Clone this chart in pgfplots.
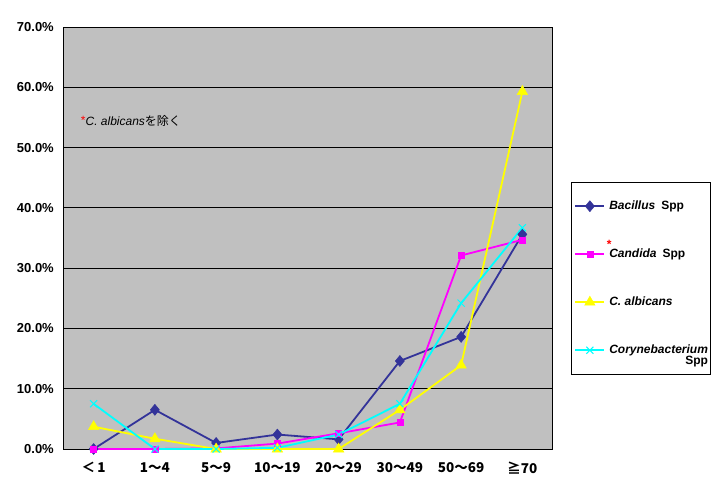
\documentclass[border=0pt]{standalone}
\usepackage{fontspec}
\setmainfont{Liberation Sans}
\newfontfamily\cjk{Noto Sans CJK JP}
\usepackage{pgfplots}
\pgfplotsset{compat=1.18}
\definecolor{bgray}{RGB}{192,192,192}
\definecolor{navy}{RGB}{51,51,153}
\definecolor{mag}{RGB}{255,0,255}
\definecolor{yel}{RGB}{255,255,0}
\definecolor{cya}{RGB}{0,255,255}
\begin{document}
\begin{tikzpicture}
\useasboundingbox (0,0) rectangle (728pt,493pt);
\begin{axis}[
  at={(63pt,44pt)}, anchor=south west,
  scale only axis, width=490pt, height=422pt,
  xmin=-0.5, xmax=7.5, ymin=0, ymax=70,
  clip=false,
  axis background/.style={fill=bgray},
  axis line style={black, line width=1pt},
  xtick={0,...,7},
  xticklabels={{\cjk ＜\,1},{\cjk 1～4},{\cjk 5～9},{\cjk 10～19},{\cjk 20～29},{\cjk 30～49},{\cjk 50～69},{\cjk ≧70}},
  extra x ticks={0.5,1.5,...,6.5},
  extra x tick labels={},
  extra x tick style={major tick length=4pt, tick align=outside, tick style={black, line width=1pt}, xmajorgrids=false},
  x tick style={draw=none},
  xticklabel style={font=\bfseries\fontsize{13.5}{15}\selectfont, inner sep=0pt, yshift=-13pt},
  ytick={0,10,...,70},
  y tick style={draw=none},
  yticklabel={\pgfmathprintnumber[fixed,fixed zerofill,precision=1]{\tick}\%},
  yticklabel style={font=\bfseries\fontsize{13}{15}\selectfont, inner sep=0pt, xshift=-9pt},
  /pgf/number format/assume math mode=true,
  ymajorgrids,
  grid style={black, line width=1pt},
  legend image code/.code={\draw[mark repeat=2,mark phase=2,#1] plot coordinates {(0pt,0pt) (14.5pt,0pt) (29pt,0pt)};},
  legend cell align=left,
  legend style={at={(1.0367,0.6334)}, anchor=north west, draw=black, line width=1pt, fill=white,
    inner xsep=3pt, inner ysep=18pt, row sep=36pt, column sep=4pt,
    nodes={inner sep=0pt, text height=9pt, text depth=3pt, anchor=west},
    font=\bfseries\fontsize{12}{14}\selectfont},
]
\addplot[color=navy, line width=1.8pt, mark=diamond*, mark size=5.5pt, mark options={fill=navy, draw=navy, line width=0.5pt, xscale=1.1}]
  coordinates {(0,0) (1,6.5) (2,1.0) (3,2.4) (4,1.6) (5,14.6) (6,18.6) (7,35.6)};
\addlegendentry{\textit{Bacillus}\hspace{6pt}Spp}
\addplot[color=mag, line width=1.8pt, mark=square*, mark size=3pt, mark options={fill=mag, draw=mag, line width=0.5pt}]
  coordinates {(0,0) (1,0) (2,0.1) (3,0.9) (4,2.6) (5,4.4) (6,32.1) (7,34.7)};
\addlegendentry{\makebox[0pt][c]{\raisebox{8.5pt}[0pt][0pt]{\textcolor{red}{*}}}\textit{Candida}\hspace{6pt}Spp}
\addplot[color=yel, line width=1.8pt, mark=triangle*, mark size=6pt, mark options={fill=yel, draw=yel, line width=0.5pt}]
  coordinates {(0,3.7) (1,1.7) (2,0) (3,0) (4,0) (5,6.5) (6,13.9) (7,59.3)};
\addlegendentry{\textit{C. albicans}}
\addplot[color=cya, line width=1.8pt, mark=x, mark size=5pt, mark options={draw=cya, line width=1pt}]
  coordinates {(0,7.5) (1,0) (2,0) (3,0.2) (4,2.4) (5,7.5) (6,24.2) (7,36.7)};
\addlegendentry{\textit{Corynebacterium}\llap{\raisebox{-11pt}[0pt][0pt]{Spp}}}
\node[anchor=base west, inner sep=0pt, font=\fontsize{12}{14}\selectfont] at (axis cs:-0.21,53.6)
  {\textcolor{red}{\raisebox{1pt}{*}}\textit{C. albicans}{\cjk を除く}};
\end{axis}
\end{tikzpicture}
\end{document}
